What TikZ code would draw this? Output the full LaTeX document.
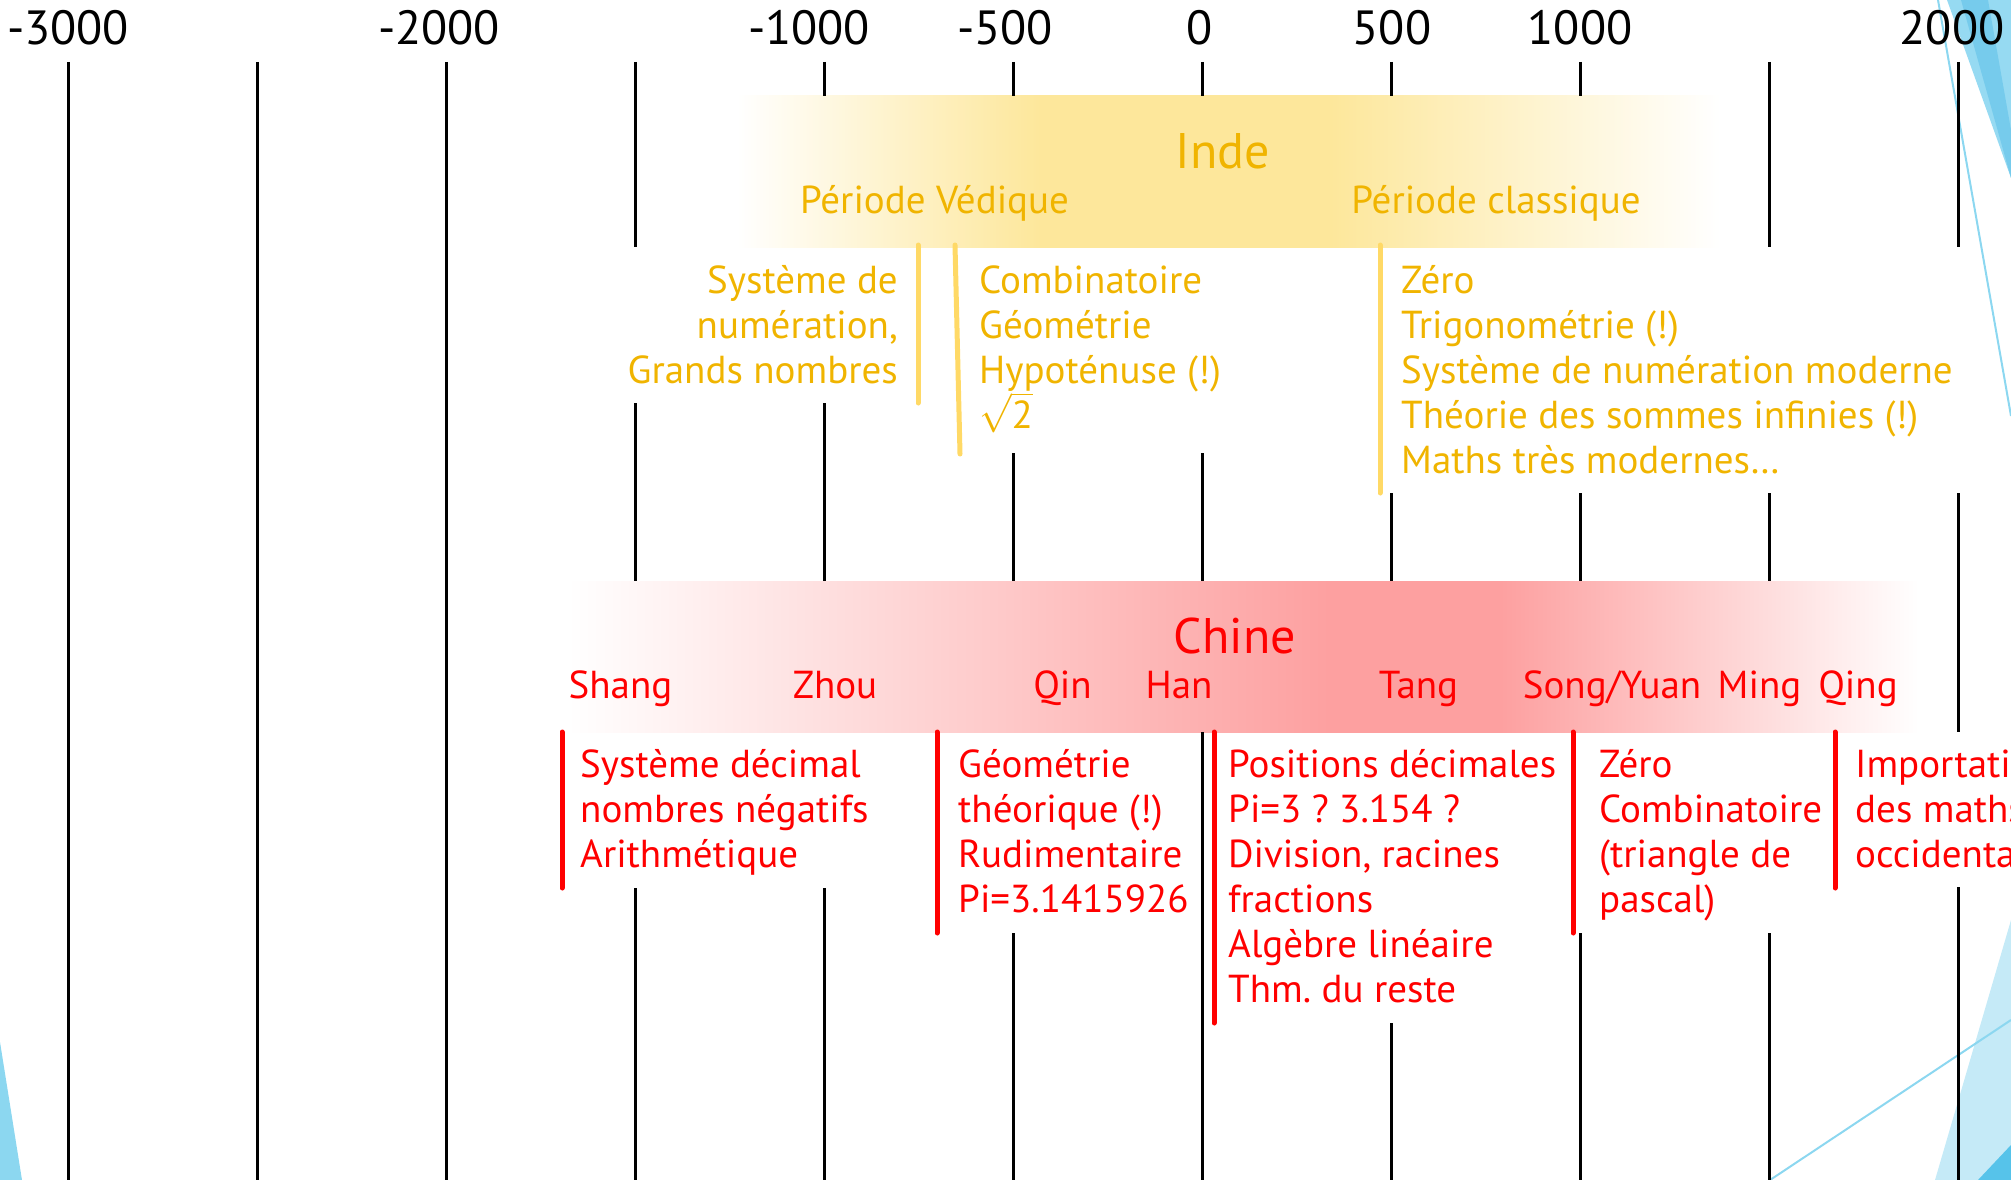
\RequirePackage{fix-cm}
\documentclass[tikz,border=0pt]{standalone}
\usepackage{fontspec}
\setmainfont{PT Sans}
\frenchspacing
\definecolor{indegold}{RGB}{240,180,0}
\definecolor{indeband}{RGB}{253,231,155}
\definecolor{indeline}{RGB}{255,217,102}
\definecolor{chinered}{RGB}{255,0,0}
\definecolor{chineband}{RGB}{253,160,160}
\definecolor{blueA}{RGB}{140,215,240}
\definecolor{blueB}{RGB}{118,203,236}
\definecolor{blueC}{RGB}{150,218,242}
\definecolor{blueD}{RGB}{197,234,247}
\definecolor{blueE}{RGB}{86,195,234}
\pgfdeclarehorizontalshading{indeshade}{100bp}{color(0bp)=(white); color(25bp)=(white); color(40.4bp)=(indeband); color(55.2bp)=(indeband); color(75bp)=(white); color(100bp)=(white)}
\pgfdeclarehorizontalshading{chineshade}{100bp}{color(0bp)=(white); color(25bp)=(white); color(53.2bp)=(chineband); color(59.5bp)=(chineband); color(75bp)=(white); color(100bp)=(white)}
\newcommand\LStack[1]{\vtop{\baselineskip=45pt\lineskiplimit=-20pt\halign{##\hfil\cr#1\crcr}}}
\newcommand\RStack[1]{\vtop{\baselineskip=45pt\lineskiplimit=-20pt\halign{\hfil##\cr#1\crcr}}}
\begin{document}
\begin{tikzpicture}[x=1pt,y=-1pt,
  tick/.style={line width=3pt,black},
  yearlab/.style={font=\fontsize{48}{56}\selectfont,anchor=base,inner sep=0pt},
  indetxt/.style={text=indegold,font=\fontsize{39}{45}\selectfont,inner sep=0pt},
  chinetxt/.style={text=chinered,font=\fontsize{39}{45}\selectfont,inner sep=0pt},
  bigtitle/.style={font=\fontsize{50}{60}\selectfont,anchor=base},
  indebar/.style={line width=5pt,indeline,line cap=round},
  chinebar/.style={line width=5pt,chinered,line cap=round},
  deco/.style={line width=2pt,blueA}]
\useasboundingbox (0,0) rectangle (2011,1180);
\clip (0,0) rectangle (2011,1180);
% background decorations
\fill[blueC] (1947,0) -- (2011,0) -- (2011,178) -- cycle;
\fill[blueB] (1961,0) -- (1988,0) -- (2011,130) -- (2011,178) -- cycle;
\draw[deco] (1938,0) -- (2011,416);
\fill[blueD] (1935,1180) -- (2011,920) -- (2011,1180) -- cycle;
\fill[blueE] (1978,1180) -- (2011,1145) -- (2011,1180) -- cycle;
\draw[deco] (1770,1180) -- (2011,1020);
\fill[blueA] (0,1042) -- (22,1180) -- (0,1180) -- cycle;
% bands
\shade[shading=indeshade] (737,96) rectangle (1720,247);
\shade[shading=chineshade] (568,581) rectangle (1919,732);
% timeline ticks
\draw[tick] (68.5,62) -- (68.5,1180);
\draw[tick] (257.5,62) -- (257.5,1180);
\draw[tick] (446.5,62) -- (446.5,1180);
\draw[tick] (635.5,62) -- (635.5,247) (635.5,403) -- (635.5,581) (635.5,888) -- (635.5,1180);
\draw[tick] (824.5,62) -- (824.5,96) (824.5,403) -- (824.5,581) (824.5,888) -- (824.5,1180);
\draw[tick] (1013.5,62) -- (1013.5,96) (1013.5,453) -- (1013.5,581) (1013.5,933) -- (1013.5,1180);
\draw[tick] (1202.5,62) -- (1202.5,96) (1202.5,453) -- (1202.5,581) (1202.5,732) -- (1202.5,1180);
\draw[tick] (1391.5,62) -- (1391.5,96) (1391.5,493) -- (1391.5,581) (1391.5,1023) -- (1391.5,1180);
\draw[tick] (1580.5,62) -- (1580.5,96) (1580.5,493) -- (1580.5,581) (1580.5,933) -- (1580.5,1180);
\draw[tick] (1769.5,62) -- (1769.5,247) (1769.5,493) -- (1769.5,581) (1769.5,933) -- (1769.5,1180);
\draw[tick] (1958.5,62) -- (1958.5,247) (1958.5,493) -- (1958.5,732) (1958.5,887) -- (1958.5,1180);
% year labels
\node[yearlab] (ym3000) at (68,45) {-3000};
\node[yearlab] (ym2000) at (439,45) {-2000};
\node[yearlab] (ym1000) at (809,45) {-1000};
\node[yearlab] (ym500) at (1005,45) {-500};
\node[yearlab] (y0) at (1200,45) {0};
\node[yearlab] (y500) at (1392,45) {500};
\node[yearlab] (y1000) at (1580,45) {1000};
\node[yearlab] (y2000) at (1952,45) {2000};
% Inde
\node[indetxt,bigtitle] (inde) at (1223,168) {Inde};
\node[indetxt,anchor=base] (vedique) at (934.5,213) {Période Védique};
\node[indetxt,anchor=base] (classique) at (1496,213) {Période classique};
\draw[indebar] (918,245) -- (918,403);
\draw[indebar] (955,245) -- (960,454);
\draw[indebar] (1380,245) -- (1380,493);
\node[indetxt,anchor=base east] (numer) at (898,293) {\RStack{Système de\cr numération,\cr Grands nombres}};
\node[indetxt,anchor=base west] (combi) at (979,293) {\LStack{Combinatoire\cr Géométrie\cr Hypoténuse (!)\cr $\sqrt{\mbox{2}}$}};
\node[indetxt,anchor=base west] (zeroI) at (1401,293) {\LStack{Zéro\cr Trigonométrie (!)\cr Système de numération moderne\cr Théorie des sommes infinies (!)\cr Maths très modernes…}};
% Chine
\node[chinetxt,bigtitle] (chine) at (1235,653) {Chine};
\node[chinetxt,anchor=base] (shang) at (620.5,698) {Shang};
\node[chinetxt,anchor=base] (zhou) at (835,698) {Zhou};
\node[chinetxt,anchor=base] (qin) at (1062.5,698) {Qin};
\node[chinetxt,anchor=base] (han) at (1179,698) {Han};
\node[chinetxt,anchor=base] (tang) at (1418.5,698) {Tang};
\node[chinetxt,anchor=base] (song) at (1612,698) {Song/Yuan};
\node[chinetxt,anchor=base] (ming) at (1759.5,698) {Ming};
\node[chinetxt,anchor=base] (qing) at (1858,698) {Qing};
\draw[chinebar] (562,732) -- (562,888);
\draw[chinebar] (937,732) -- (937,933);
\draw[chinebar] (1214,732) -- (1214,1023);
\draw[chinebar] (1573,732) -- (1573,933);
\draw[chinebar] (1835,732) -- (1835,888);
\node[chinetxt,anchor=base west] (decimal) at (580,777) {\LStack{Système décimal\cr nombres négatifs\cr Arithmétique}};
\node[chinetxt,anchor=base west] (geomC) at (958,777) {\LStack{Géométrie\cr théorique (!)\cr Rudimentaire\cr Pi=3.1415926}};
\node[chinetxt,anchor=base west] (posdec) at (1228,777) {\LStack{Positions décimales\cr Pi=3 ? 3.154 ?\cr Division, racines\cr fractions\cr Algèbre linéaire\cr Thm. du reste}};
\node[chinetxt,anchor=base west] (zeroC) at (1599,777) {\LStack{Zéro\cr Combinatoire\cr (triangle de\cr pascal)}};
\node[chinetxt,anchor=base west] (import) at (1855,777) {\LStack{Importation\cr des maths\cr occidentales}};
\end{tikzpicture}
\end{document}
